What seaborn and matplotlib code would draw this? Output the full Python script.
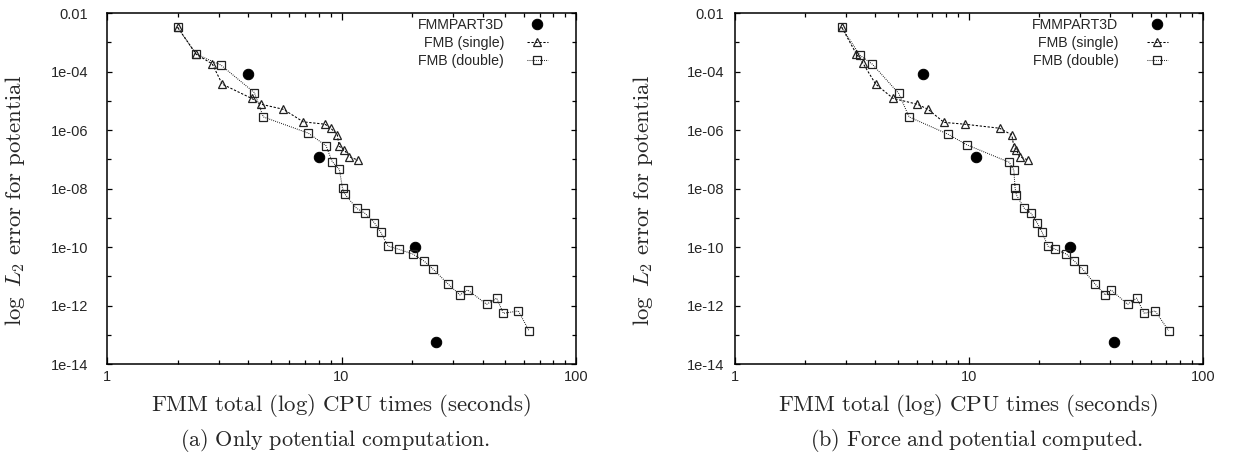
import matplotlib
matplotlib.use("Agg")
import matplotlib.pyplot as plt
import seaborn as sns
import pandas as pd
import numpy as np

# ---------------- data ----------------
# (a) Only potential computation
a_fmm_x = [4.0, 8.0, 20.6, 25.2]
a_fmm_y = [8.0e-5, 1.22e-7, 9.8e-11, 5.8e-14]

a_single_x = [2.0, 2.40, 2.81, 3.10, 4.14, 4.54, 5.65, 6.87, 8.50, 9.0, 9.6, 9.76, 10.28, 10.77, 11.76]
a_single_y = [3.24e-3, 3.9e-4, 1.82e-4, 3.7e-5, 1.2e-5, 7.6e-6, 5.1e-6, 1.9e-6, 1.58e-6, 1.15e-6,
              6.8e-7, 2.8e-7, 2.1e-7, 1.23e-7, 9.3e-8]

a_double_x = [2.0, 2.40, 3.06, 4.25, 4.64, 7.22, 8.59, 9.13, 9.79, 10.1, 10.35, 11.6, 12.6, 13.8,
              14.7, 15.8, 17.6, 20.1, 22.5, 24.6, 28.5, 32.0, 34.5, 41.6, 45.9, 49.0, 56.8, 63.0]
a_double_y = [3.24e-3, 3.9e-4, 1.66e-4, 1.9e-5, 2.8e-6, 7.8e-7, 2.9e-7, 8.3e-8, 4.5e-8, 1.02e-8,
              6.3e-9, 2.1e-9, 1.41e-9, 6.8e-10, 3.2e-10, 1.07e-10, 8.3e-11, 5.8e-11, 3.3e-11,
              1.74e-11, 5.4e-12, 2.3e-12, 3.4e-12, 1.1e-12, 1.78e-12, 5.4e-13, 6.5e-13, 1.38e-13]

# (b) Force and potential computed
b_fmm_x = [6.4, 10.8, 27.0, 41.7]
b_fmm_y = [8.0e-5, 1.23e-7, 9.8e-11, 5.8e-14]

b_single_x = [2.87, 3.32, 3.54, 4.01, 4.76, 6.04, 6.71, 7.85, 9.61, 13.56, 15.3, 15.6, 16.0, 16.5, 18.0]
b_single_y = [3.24e-3, 3.9e-4, 1.9e-4, 3.7e-5, 1.2e-5, 7.6e-6, 5.1e-6, 1.82e-6, 1.58e-6, 1.15e-6,
              6.8e-7, 2.7e-7, 2.1e-7, 1.23e-7, 9.3e-8]

b_double_x = [2.87, 3.43, 3.88, 5.03, 5.57, 8.16, 9.84, 14.9, 15.6, 15.8, 16.0, 17.3, 18.5, 19.6,
              20.6, 21.8, 23.5, 26.1, 28.3, 30.7, 34.7, 38.3, 40.6, 47.8, 52.2, 56.3, 62.7, 71.5]
b_double_y = [3.24e-3, 3.6e-4, 1.78e-4, 1.78e-5, 2.8e-6, 7.2e-7, 3.1e-7, 7.9e-8, 4.3e-8, 1.02e-8,
              6.0e-9, 2.1e-9, 1.41e-9, 6.8e-10, 3.2e-10, 1.07e-10, 8.3e-11, 5.8e-11, 3.3e-11,
              1.74e-11, 5.4e-12, 2.3e-12, 3.4e-12, 1.1e-12, 1.78e-12, 5.4e-13, 6.5e-13, 1.38e-13]

series_labels = ["FMMPART3D", "FMB (single)", "FMB (double)"]
y_tick_values = [1e-2, 1e-4, 1e-6, 1e-8, 1e-10, 1e-12, 1e-14]
y_tick_labels = ["0.01", "1e-04", "1e-06", "1e-08", "1e-10", "1e-12", "1e-14"]
y_minor_values = [1e-3, 1e-5, 1e-7, 1e-9, 1e-11, 1e-13]
x_tick_values = [1, 10, 100]
x_tick_labels = ["1", "10", "100"]
xlabel = r"$\mathrm{FMM\ total\ (log)\ CPU\ times\ (seconds)}$"
ylabel = r"$\log\ L_2\ \mathrm{error\ for\ potential}$"
captions = [r"$\mathrm{(a)\ Only\ potential\ computation.}$",
            r"$\mathrm{(b)\ Force\ and\ potential\ computed.}$"]

# ---------------- style ----------------
sns.set_theme(style="ticks")
plt.rcParams["font.family"] = ["Liberation Sans", "DejaVu Sans"]
plt.rcParams["mathtext.fontset"] = "cm"
plt.rcParams["axes.linewidth"] = 1.1

fig = plt.figure(figsize=(12.35, 4.59), dpi=100)
W, H = 1235.0, 459.0
ax_a = fig.add_axes([107 / W, 1 - 364 / H, 469 / W, 351 / H])
ax_b = fig.add_axes([734.5 / W, 1 - 364 / H, 468.2 / W, 351 / H])

panels = [
    (ax_a, a_fmm_x, a_fmm_y, a_single_x, a_single_y, a_double_x, a_double_y, 13.5, 0.940, 1.6),
    (ax_b, b_fmm_x, b_fmm_y, b_single_x, b_single_y, b_double_x, b_double_y, 7.5, 0.926, 2.0),
]

for ax, fx, fy, sx, sy, dx, dy, ypad, legx, htp in panels:
    df_f = pd.DataFrame({"x": fx, "y": fy})
    df_s = pd.DataFrame({"x": sx, "y": sy})
    df_d = pd.DataFrame({"x": dx, "y": dy})
    sns.lineplot(data=df_f, x="x", y="y", ax=ax, estimator=None, sort=False,
                 linestyle="none", marker="o", markersize=7.5, color="black",
                 markeredgecolor="black", label=series_labels[0])
    sns.lineplot(data=df_s, x="x", y="y", ax=ax, estimator=None, sort=False,
                 linestyle=(0, (2.2, 1.6)), linewidth=0.75, color="black",
                 marker="^", markersize=6, markerfacecolor="none",
                 markeredgecolor="#222222", markeredgewidth=0.9, label=series_labels[1])
    sns.lineplot(data=df_d, x="x", y="y", ax=ax, estimator=None, sort=False,
                 linestyle=(0, (0.8, 1.2)), linewidth=0.75, color="black",
                 marker="s", markersize=5.5, markerfacecolor="none",
                 markeredgecolor="#222222", markeredgewidth=0.9, label=series_labels[2])

    ax.set_xscale("log")
    ax.set_yscale("log")
    ax.set_xlim(1, 100)
    ax.set_ylim(1e-14, 1e-2)
    ax.set_xticks(x_tick_values)
    ax.set_xticklabels(x_tick_labels)
    ax.xaxis.set_minor_locator(matplotlib.ticker.LogLocator(base=10, subs=np.arange(2, 10)))
    ax.xaxis.set_minor_formatter(matplotlib.ticker.NullFormatter())
    ax.set_yticks(y_tick_values)
    ax.set_yticklabels(y_tick_labels)
    ax.set_yticks(y_minor_values, minor=True)
    ax.yaxis.set_minor_formatter(matplotlib.ticker.NullFormatter())

    for sp in ax.spines.values():
        sp.set_visible(True)
        sp.set_color("black")
        sp.set_linewidth(1.1)

    ax.tick_params(axis="both", which="both", direction="in", top=True, right=True,
                   color="black", width=0.9)
    ax.tick_params(axis="x", which="major", length=5, pad=4, labelsize=10.5)
    ax.tick_params(axis="x", which="minor", length=3.2)
    ax.tick_params(axis="y", which="major", length=3.8, pad=ypad, labelsize=10.5)
    ax.tick_params(axis="y", which="minor", length=3.0)

    ax.set_xlabel(xlabel, fontsize=16.5, labelpad=6)
    ax.set_ylabel(ylabel, fontsize=16.5)
    ax.yaxis.set_label_coords(-(80 / 469), 0.467)

    leg = ax.legend(loc="upper right", bbox_to_anchor=(legx, 0.985), frameon=False,
                    markerfirst=False, fontsize=10.2, handlelength=1.5,
                    handletextpad=htp, labelspacing=0.28, borderpad=0,
                    borderaxespad=0, numpoints=1)

fig.text(335 / W, 1 - 440 / H, captions[0], ha="center", va="center", fontsize=16)
fig.text(977 / W, 1 - 440 / H, captions[1], ha="center", va="center", fontsize=16)

fig.savefig("out.png", dpi=100, facecolor="white")
